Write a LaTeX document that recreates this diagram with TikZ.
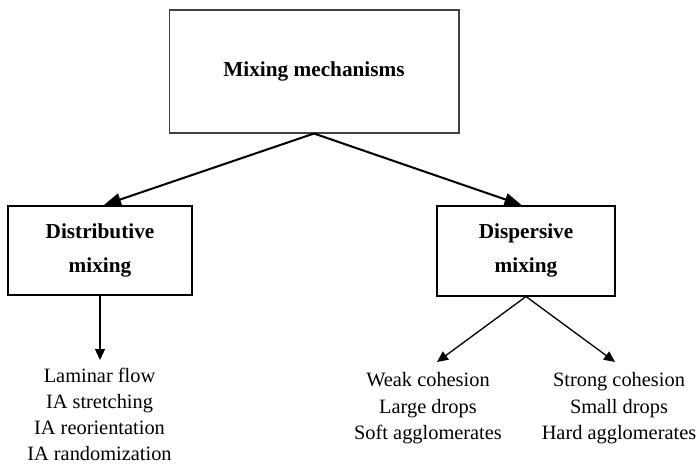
\documentclass[tikz,border=0pt]{standalone}
\usepackage{fontspec}
\setmainfont{Liberation Serif}
\usetikzlibrary{arrows.meta,positioning}

\begin{document}
\begin{tikzpicture}[x=0.02cm, y=-0.02cm,
  box/.style={draw, inner sep=0pt, align=center,
    font=\fontsize{12.1}{19.3}\selectfont\bfseries},
  listtext/.style={inner sep=0pt, align=center, anchor=north,
    font=\fontsize{11.6}{14.8}\selectfont},
  mainarrow/.style={-{Triangle[length=0.34cm,width=0.25cm]}, line width=1.15pt},
  subarrow/.style={-{Triangle[length=0.22cm,width=0.2cm]}, line width=0.75pt}]
  \useasboundingbox (0,0) rectangle (699,466);
  % boxes
  \node[box, draw=black!75, line width=0.6pt, minimum width=5.8cm, minimum height=2.46cm]
    (mech) at (314,71.5) {Mixing mechanisms};
  \node[box, line width=0.95pt, minimum width=3.67cm, minimum height=1.79cm]
    (dist) at (100,250.5) {Distributive\\mixing};
  \node[box, line width=0.95pt, minimum width=3.57cm, minimum height=1.8cm]
    (disp) at (526,250.7) {Dispersive\\mixing};
  % arrows from the top box
  \coordinate (distin) at (104,205);
  \coordinate (dispin) at (521.5,205);
  \draw[mainarrow] (mech.south) -- (distin);
  \draw[mainarrow] (mech.south) -- (dispin);
  % lists of mechanisms
  \coordinate (disttip) at (100,360);
  \coordinate (weaktip) at (437,362);
  \coordinate (strongtip) at (615,362);
  \draw[subarrow] (dist.south) -- (disttip);
  \draw[subarrow] (disp.south) -- (weaktip);
  \draw[subarrow] (disp.south) -- (strongtip);
  \node[listtext] (distlist) at (99.5,368)
    {Laminar flow\\IA stretching\\IA reorientation\\IA randomization};
  \node[listtext] (weaklist) at (428,372.5)
    {Weak cohesion\\Large drops\\Soft agglomerates};
  \node[listtext] (stronglist) at (619,372.5)
    {Strong cohesion\\Small drops\\Hard agglomerates};
\end{tikzpicture}
\end{document}
